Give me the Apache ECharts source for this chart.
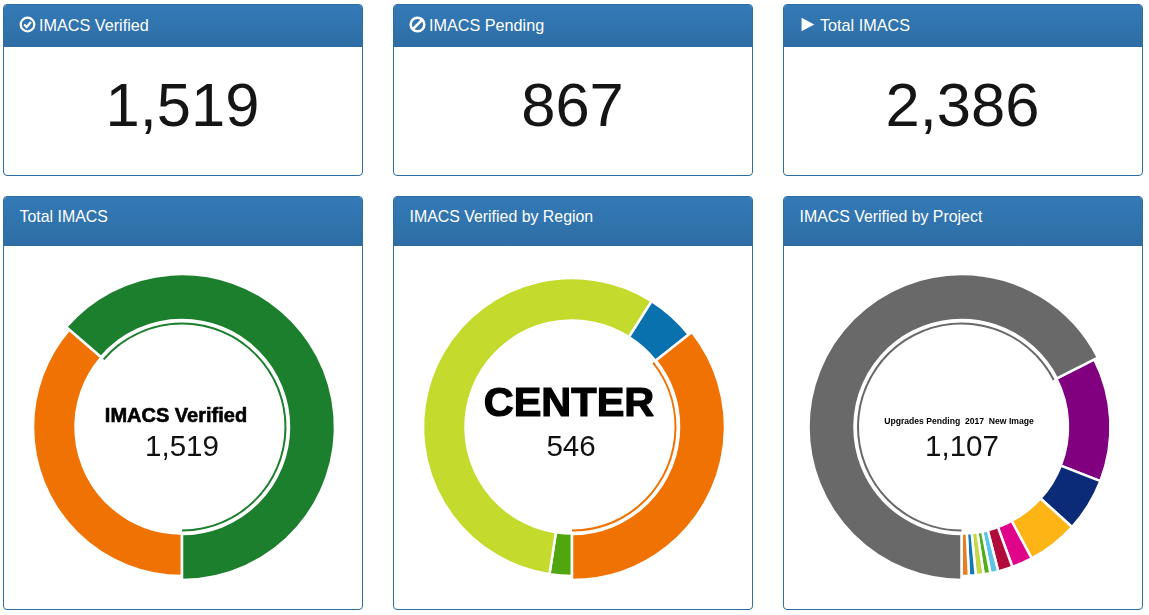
<!DOCTYPE html>
<html>
<head>
<meta charset="utf-8">
<title>IMACS</title>
<script src="https://cdn.jsdelivr.net/npm/echarts@6/dist/echarts.min.js"></script>
<style>
    html, body { margin: 0; padding: 0; background: #fff; width: 1149px; height: 615px; overflow: hidden; font-family: "Liberation Sans", Arial, sans-serif; }
    .panel { position: absolute; box-sizing: border-box; width: 360px; border: 1px solid #2e6da4; border-radius: 4px; background: #fff; overflow: hidden; }
    .panel.top { top: 4px; height: 172px; }
    .panel.bottom { top: 196px; height: 414px; }
    .heading { position: absolute; left: 0; right: 0; top: 0; background: linear-gradient(to bottom, #337ab7, #2e6da4); color: #fff; box-sizing: border-box; }
    .top .heading { height: 42px; line-height: 41px; padding-left: 15px; font-size: 16.2px; }
    .bottom .heading { height: 49px; line-height: 39px; padding-left: 15.5px; font-size: 15.9px; }
    .heading svg { width: 17px; height: 17px; vertical-align: -2px; margin-right: 3px; }
    .count { position: absolute; left: -1px; right: 0; top: 65px; text-align: center; font-size: 61.5px; line-height: 70px; color: #151515; }
    .chart { position: absolute; left: -1px; top: 49px; width: 360px; height: 364px; }
</style>
</head>
<body>
<div class="panel top" style="left:3px">
    <div class="heading">
        <svg viewBox="0 0 20 20"><circle cx="10" cy="10" r="8" fill="none" stroke="#fff" stroke-width="2.6"/><path d="M6 10l3 3 5-6" fill="none" stroke="#fff" stroke-width="2.6"/></svg>IMACS Verified
    </div>
    <div class="count">1,519</div>
</div>
<div class="panel top" style="left:393px">
    <div class="heading">
        <svg viewBox="0 0 20 20"><circle cx="10" cy="10" r="8" fill="none" stroke="#fff" stroke-width="3"/><path d="M5 15L15 5" stroke="#fff" stroke-width="3"/></svg>IMACS Pending
    </div>
    <div class="count">867</div>
</div>
<div class="panel top" style="left:783px">
    <div class="heading">
        <svg viewBox="0 0 20 20" style="margin-right:4px"><path d="M3 2L18 10L3 18Z" fill="#fff"/></svg>Total IMACS
    </div>
    <div class="count">2,386</div>
</div>

<div class="panel bottom" style="left:3px">
    <div class="heading">Total IMACS</div>
    <div class="chart" id="chart_total"></div>
</div>
<div class="panel bottom" style="left:393px">
    <div class="heading">IMACS Verified by Region</div>
    <div class="chart" id="chart_region"></div>
</div>
<div class="panel bottom" style="left:783px">
    <div class="heading">IMACS Verified by Project</div>
    <div class="chart" id="chart_project"></div>
</div>

<script>
    const FONT = '"Liberation Sans", Arial, sans-serif';
    const CLEAR = 'rgba(0,0,0,0)';

    // slices run clockwise from the bottom of the ring
    let totalData = [
        {name: 'IMACS Pending', value: 867, color: '#f07202'},
        {name: 'IMACS Verified', value: 1519, color: '#1c7f2d', active: true}
    ];
    let regionData = [
        {name: '', value: 37, color: '#4fa60f'},
        {name: '', value: 866, color: '#c4da2c'},
        {name: '', value: 82, color: '#0971ae'},
        {name: 'CENTER', value: 546, color: '#f07202', active: true}
    ];
    let projectData = [
        {name: 'Upgrades Pending  2017  New Image', value: 1107, color: '#696969', active: true},
        {name: '', value: 220, color: '#800080'},
        {name: '', value: 95, color: '#0b2a78'},
        {name: '', value: 90, color: '#fdb515'},
        {name: '', value: 37, color: '#e0048b'},
        {name: '', value: 26, color: '#b00b3b'},
        {name: '', value: 14, color: '#5bc4e8'},
        {name: '', value: 12, color: '#4fae1a'},
        {name: '', value: 14, color: '#c5d948'},
        {name: '', value: 12, color: '#1478b4'},
        {name: '', value: 13, color: '#e67e22'}
    ];

    /**
     * one ring layer, slices not wanted on this layer stay see-through
     */
    function ringSeries(data, center, radius, showActive, borderWidth) {
        return {
            type: 'pie',
            silent: true,
            animation: false,
            startAngle: 270,
            center: center,
            radius: radius,
            label: {show: false},
            labelLine: {show: false},
            data: data.map(function (item) {
                let visible = !!item.active === showActive;
                return {
                    name: item.name,
                    value: item.value,
                    itemStyle: {
                        color: visible ? item.color : CLEAR,
                        borderColor: visible && borderWidth ? '#fff' : CLEAR,
                        borderWidth: visible ? borderWidth : 0
                    }
                };
            })
        };
    }

    function loadDonut(id, data, center, label) {
        let active = data.filter(function (item) { return item.active; })[0];
        let myChart = echarts.init(document.getElementById(id));
        myChart.setOption({
            title: [
                {
                    text: active.name,
                    left: label.x,
                    top: label.y,
                    textAlign: 'center',
                    textVerticalAlign: 'middle',
                    padding: 0,
                    textStyle: {
                        fontFamily: FONT,
                        fontWeight: 'bold',
                        fontSize: label.size,
                        color: '#000',
                        textBorderColor: '#000',
                        textBorderWidth: label.stroke
                    }
                },
                {
                    text: active.value.toLocaleString('en-US'),
                    left: label.valueX,
                    top: 202,
                    textAlign: 'center',
                    textVerticalAlign: 'middle',
                    padding: 0,
                    textStyle: {fontFamily: FONT, fontWeight: 'normal', fontSize: 29.5, color: '#111'}
                }
            ],
            series: [
                ringSeries(data, center, [106.5, 149], false, 2.5),
                ringSeries(data, center, [107, 153], true, 2.5),
                ringSeries(data, center, [102.5, 104.5], true, 0)
            ]
        });
    }

    loadDonut('chart_total', totalData, [179, 181], {x: 173, y: 170.5, size: 20, stroke: 0.6, valueX: 179});
    loadDonut('chart_region', regionData, [179, 181], {x: 176, y: 159, size: 41.5, stroke: 1.2, valueX: 178});
    loadDonut('chart_project', projectData, [178.5, 181], {x: 176, y: 176, size: 8.6, stroke: 0, valueX: 179});
</script>
</body>
</html>
